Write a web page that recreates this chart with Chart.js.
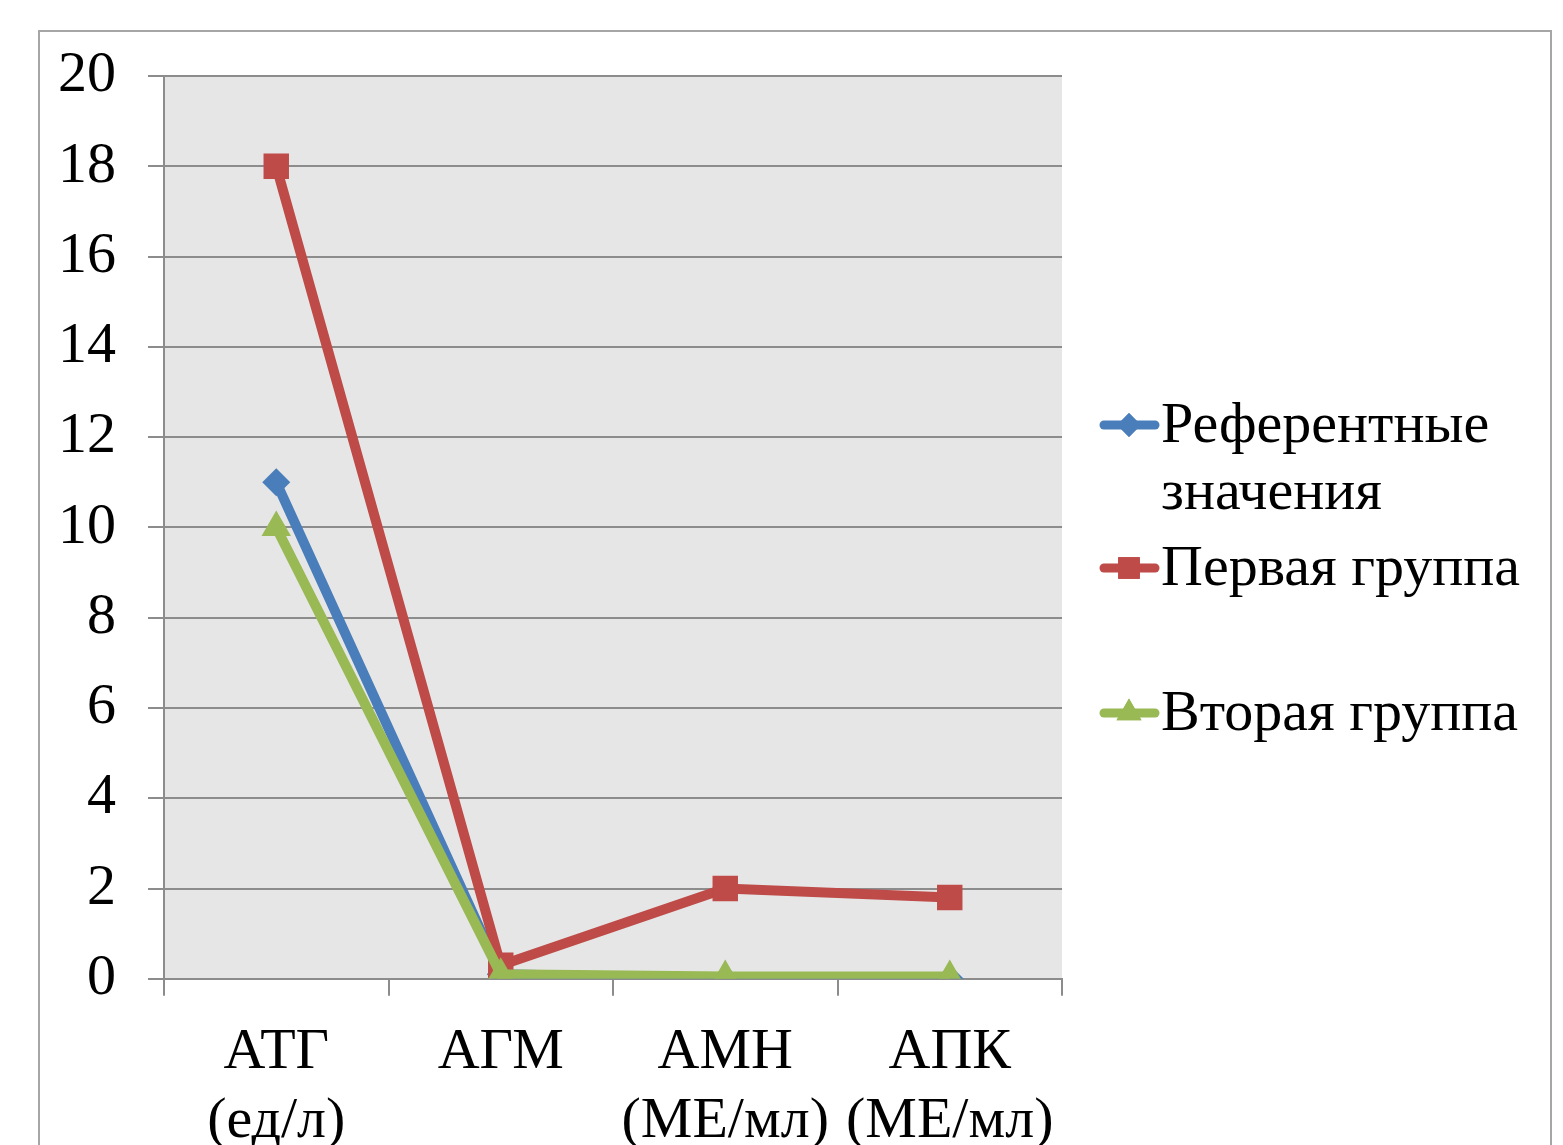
<!DOCTYPE html>
<html lang="ru">
<head>
<meta charset="utf-8">
<script src="https://cdn.jsdelivr.net/npm/chart.js@4"></script>
<style>
  html, body { margin: 0; padding: 0; background: #fff; overflow: hidden; }
  #frame { position: absolute; left: 38px; top: 30px; width: 1510px; height: 1200px; border: 2px solid #a6a6a6; }
  #chart { position: absolute; left: 0; top: 0; }
</style>
</head>
<body>
<div id="frame"></div>
<canvas id="chart" width="1563" height="1179"></canvas>
<script>
// Данные
const categories = [['АТГ', '(ед/л)'], 'АГМ', ['АМН', '(МЕ/мл)'], ['АПК', '(МЕ/мл)']];
const referenceValues = [11, 0.1, 0, 0];
const firstGroup = [18, 0.3, 2, 1.8];
const secondGroup = [10, 0.1, 0.05, 0.05];
const seriesNames = [['Референтные', 'значения'], ['Первая группа'], ['Вторая группа']];

const FONT = '"Liberation Serif", "Times New Roman", serif';

// Серый фон области построения
const plotBg = {
    id: 'plotBg',
    beforeDraw(chart) {
        const { ctx, chartArea: a } = chart;
        ctx.save();
        ctx.fillStyle = '#e6e6e6';
        ctx.fillRect(a.left, a.top, a.right - a.left, a.bottom - a.top);
        ctx.restore();
    }
};

// Легенда справа, как в Excel
const sideLegend = {
    id: 'sideLegend',
    afterDraw(chart) {
        const ctx = chart.ctx;
        const rows = [425, 568, 713];
        ctx.save();
        chart.data.datasets.forEach((ds, i) => {
            const y = rows[i];
            ctx.strokeStyle = ds.borderColor;
            ctx.lineWidth = 9;
            ctx.lineCap = 'round';
            ctx.beginPath();
            ctx.moveTo(1104, y);
            ctx.lineTo(1155, y);
            ctx.stroke();
            ctx.fillStyle = ds.borderColor;
            Chart.helpers.drawPoint(ctx, {
                pointStyle: ds.pointStyle, radius: ds.pointRadius * 0.85, borderWidth: 0
            }, 1129, y);
            ctx.fill();
            ctx.fillStyle = '#000';
            ctx.font = '58px ' + FONT;
            ctx.textBaseline = 'middle';
            seriesNames[i].forEach((t, j) => ctx.fillText(t, 1161, y + 2 + j * 67));
        });
        ctx.restore();
    }
};

new Chart(document.getElementById('chart'), {
    type: 'line',
    data: {
        labels: categories,
        datasets: [
            {
                label: seriesNames[0].join(' '), data: referenceValues,
                borderColor: '#4a7ebb', backgroundColor: '#4a7ebb',
                pointStyle: 'rectRot', pointRadius: 14, order: 3
            },
            {
                label: seriesNames[1].join(' '), data: firstGroup,
                borderColor: '#be4b48', backgroundColor: '#be4b48',
                pointStyle: 'rect', pointRadius: 18, order: 2
            },
            {
                label: seriesNames[2].join(' '), data: secondGroup,
                borderColor: '#98b954', backgroundColor: '#98b954',
                pointStyle: 'triangle', pointRadius: 17, order: 1
            }
        ]
    },
    options: {
        responsive: false,
        devicePixelRatio: 1,
        animation: false,
        elements: {
            line: { borderWidth: 10, tension: 0 },
            point: { borderWidth: 0, hoverRadius: 14 }
        },
        layout: { padding: { left: 26, right: 501, top: 76, bottom: 0 } },
        plugins: { legend: { display: false }, tooltip: { enabled: false } },
        scales: {
            x: {
                offset: true,
                grid: { offset: true, drawOnChartArea: false, drawTicks: true, tickLength: 17, color: '#8c8c8c', lineWidth: 2 },
                border: { color: '#8c8c8c', width: 2 },
                ticks: { color: '#000', font: { family: FONT, size: 58, lineHeight: 1.2 }, padding: 22, maxRotation: 0, autoSkip: false }
            },
            y: {
                min: 0, max: 20,
                grid: { color: '#8c8c8c', lineWidth: 2, drawTicks: true, tickLength: 16 },
                border: { color: '#8c8c8c', width: 2 },
                ticks: { stepSize: 2, color: '#000', font: { family: FONT, size: 58 }, padding: 32 }
            }
        }
    },
    plugins: [plotBg, sideLegend]
});
</script>
</body>
</html>
